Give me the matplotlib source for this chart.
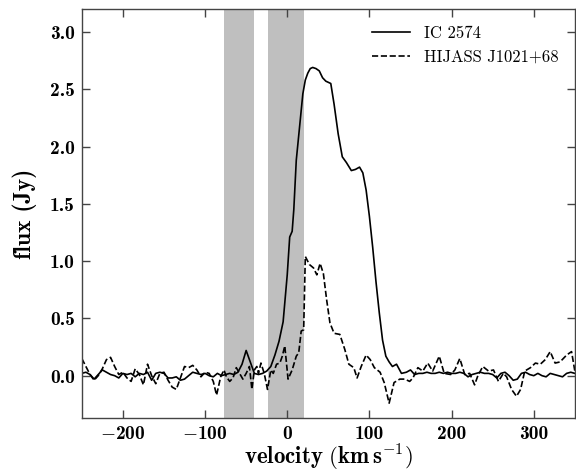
import matplotlib
matplotlib.use("Agg")
import matplotlib.pyplot as plt
from matplotlib.ticker import FuncFormatter, MultipleLocator

plt.rcParams.update({
    'mathtext.fontset': 'cm',
    'font.family': 'serif',
    'font.serif': ['cmr10', 'DejaVu Serif'],
    'axes.formatter.use_mathtext': True,
    'axes.unicode_minus': False,
})

# IC 2574 spectrum
v_ic = [-250, -245, -240, -235, -230, -225, -220, -215, -210, -205,
        -200, -195, -190, -185, -180, -175, -170, -165, -160, -155,
        -150, -145, -140, -135, -130, -125, -120, -115, -110, -105,
        -100, -95, -90, -85, -80, -75, -70, -65, -60, -55,
        -50, -45, -40, -35, -30, -25, -20, -15, -10, -5,
        0, 3, 6, 8, 11, 15, 19, 22, 25, 28, 31, 35, 39, 43, 47, 50, 53,
        57, 62, 67, 72, 78, 83, 88, 92, 96, 100, 104, 108, 112, 116, 120,
        124, 128, 133, 139, 145, 150, 155, 160, 165, 170, 175, 180,
        185, 190, 195, 200, 205, 210, 215, 220, 225, 230, 235, 240,
        245, 250, 255, 260, 265, 270, 275, 280, 285, 290, 295, 300,
        305, 310, 315, 320, 325, 330, 335, 340, 345, 350]
f_ic = [0.02, 0.03, 0.01, -0.03, 0.01, 0.05, 0.03, 0.01, 0.00, -0.02,
        0.02, 0.01, 0.02, -0.01, 0.02, 0.01, 0.03, -0.04, 0.02, 0.03,
        0.02, -0.02, -0.02, -0.01, -0.04, -0.03, 0.00, 0.03, 0.02, 0.01,
        0.02, 0.00, -0.01, 0.02, 0.00, 0.01, 0.02, 0.01, 0.03, 0.10,
        0.22, 0.12, 0.02, 0.01, 0.02, 0.04, 0.08, 0.18, 0.30, 0.47,
        0.88, 1.21, 1.26, 1.45, 1.88, 2.17, 2.46, 2.58, 2.64, 2.68, 2.69, 2.68, 2.66, 2.60, 2.57, 2.56, 2.55,
        2.37, 2.11, 1.91, 1.86, 1.79, 1.80, 1.82, 1.77, 1.62, 1.39, 1.12, 0.82, 0.55, 0.31, 0.17,
        0.12, 0.08, 0.10, 0.02, 0.03, 0.05, 0.01, 0.02, 0.02, 0.03, 0.02, 0.02,
        0.03, 0.02, 0.03, 0.02, 0.02, 0.03, 0.02, -0.01, 0.01, 0.02, 0.03, 0.02,
        0.02, 0.01, -0.02, 0.02, 0.03, 0.00, -0.04, -0.03, 0.02, 0.03, 0.01, 0.00,
        0.02, 0.00, -0.01, 0.02, 0.01, 0.00, -0.01, 0.02, 0.03, 0.02]

# HIJASS J1021+68 spectrum
v_hj = [-250, -245, -240, -235, -230, -225, -220, -215, -210, -205,
        -200, -195, -190, -185, -180, -175, -170, -165, -160, -155,
        -150, -145, -140, -135, -130, -125, -120, -115, -110, -105,
        -100, -95, -90, -86, -81, -77, -74, -70, -66, -62, -58, -54,
        -50, -46, -43, -40, -37, -35, -32, -28, -24, -20, -17, -13,
        -9, -6, -3, 1, 6, 11, 14, 17, 20, 22, 27, 32, 36, 40, 44,
        48, 52, 57, 64, 70, 75, 81, 85, 90, 96, 101, 106, 113, 118,
        124, 130, 137, 143, 149, 153, 159, 165, 171, 177, 185, 191,
        199, 204, 210, 216, 222, 228, 232, 238, 245, 251, 257, 263,
        267, 273, 279, 284, 289, 296, 302, 308, 314, 320, 326, 332,
        340, 346, 350]
f_hj = [0.15, 0.08, 0.01, -0.04, 0.00, 0.06, 0.14, 0.16, 0.08, 0.01,
        0.03, -0.02, -0.05, 0.06, 0.01, -0.08, 0.10, 0.00, -0.07, 0.02,
        0.03, -0.04, -0.10, -0.12, -0.02, 0.08, 0.07, 0.09, 0.05, -0.01,
        0.03, 0.02, -0.05, -0.17, -0.01, 0.05, -0.01, -0.05, -0.02, 0.07, 0.02, -0.03,
        0.02, 0.08, -0.12, 0.05, 0.08, 0.02, 0.11, 0.02, -0.12, 0.05, 0.02, 0.10,
        0.11, 0.17, 0.26, -0.03, 0.05, 0.17, 0.20, 0.39, 0.40, 1.04, 0.97, 0.94, 0.88, 0.98, 0.89,
        0.66, 0.46, 0.37, 0.36, 0.23, 0.10, 0.07, -0.02, 0.08, 0.18, 0.14, 0.07, 0.03, -0.06,
        -0.24, -0.06, -0.03, -0.03, -0.05, -0.02, 0.07, 0.04, 0.11, 0.04, 0.17, 0.02,
        0.01, 0.05, 0.15, 0.01, 0.02, -0.08, 0.00, 0.08, 0.04, 0.05, -0.05, 0.02,
        -0.01, -0.12, -0.18, -0.12, 0.04, 0.07, 0.11, 0.10, 0.14, 0.21, 0.11, 0.12,
        0.18, 0.21, 0.04]

# excluded velocity ranges (shaded)
bands = [(-77, -40), (-24, 20)]
labels = ['IC 2574', 'HIJASS J1021+68']


def xfmt(x, pos):
    n = int(round(x))
    return (r'$-$%d' % abs(n)) if n < 0 else '%d' % n


def yfmt(y, pos):
    return '%.1f' % abs(y) if abs(y) < 1e-9 or y > 0 else r'$-$%.1f' % abs(y)


fig = plt.figure(figsize=(5.76, 4.74), dpi=100)
ax = fig.add_axes([0.142, 0.118, 0.856, 0.863])

for lo, hi in bands:
    ax.axvspan(lo, hi, color='#bfbfbf', lw=0, zorder=0)

ax.plot(v_ic, f_ic, color='black', lw=1.2, ls='-', label=labels[0])
ax.plot(v_hj, f_hj, color='black', lw=1.2, ls='--', label=labels[1])

ax.set_xlim(-250, 350)
ax.set_ylim(-0.37, 3.2)
ax.xaxis.set_major_locator(MultipleLocator(100))
ax.yaxis.set_major_locator(MultipleLocator(0.5))
ax.xaxis.set_major_formatter(FuncFormatter(xfmt))
ax.yaxis.set_major_formatter(FuncFormatter(yfmt))
ax.tick_params(direction='in', top=True, right=True, length=6, width=1,
               labelsize=14, color='#444444', pad=5)
for s in ax.spines.values():
    s.set_color('#444444')
    s.set_linewidth(1.0)

ax.set_xlabel(r'$\mathbf{velocity\ (km\,s^{-1})}$', fontsize=16.5, labelpad=-1)
ax.set_ylabel('flux (Jy)', fontsize=17, labelpad=9, fontfamily='cmb10')

leg = ax.legend(loc='upper right', frameon=False, fontsize=12,
                handlelength=2.3, handletextpad=0.8, borderaxespad=0.6,
                labelspacing=0.5)

fig.canvas.draw()
for lab in ax.get_xticklabels() + ax.get_yticklabels():
    lab.set_fontfamily('cmb10')

fig.savefig('out.png', dpi=100)
